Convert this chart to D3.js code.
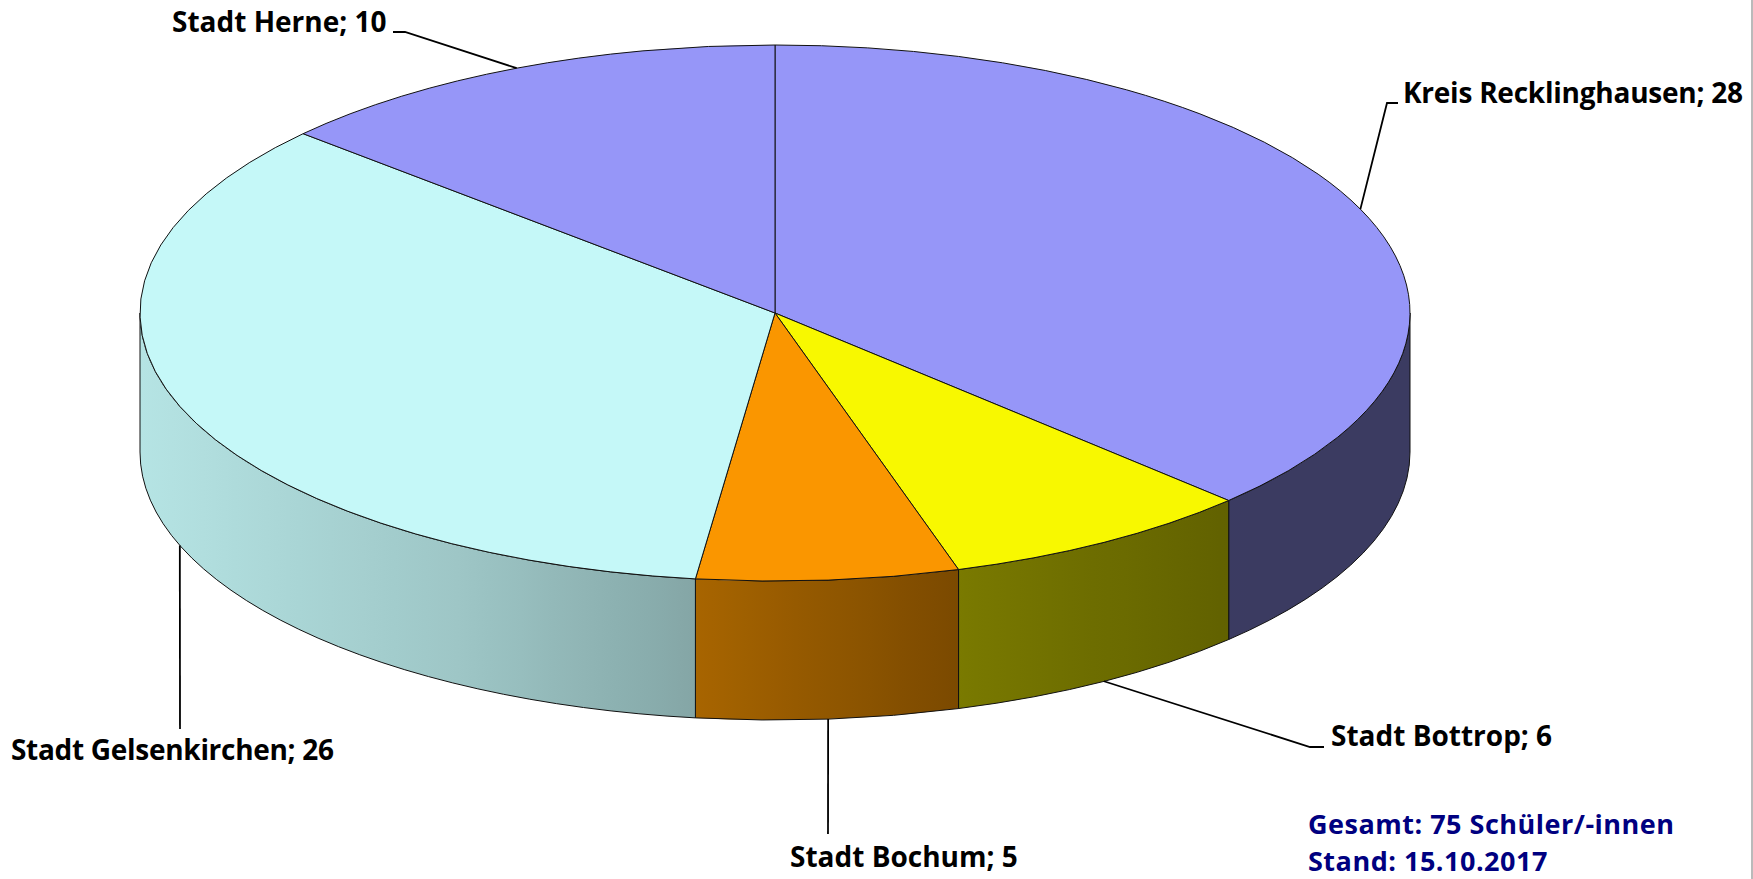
<!DOCTYPE html>
<html>
<head>
<meta charset="utf-8">
<script src="https://cdn.jsdelivr.net/npm/d3@7"></script>
<style>
  html, body { margin: 0; padding: 0; background: #fff; overflow: hidden; }
  text { font-family: "Open Sans", "Noto Sans", sans-serif; font-weight: 700; }
</style>
</head>
<body>
<div id="chart"></div>
<script>
// the data
var regions = ["Kreis Recklinghausen", "Stadt Bottrop", "Stadt Bochum", "Stadt Gelsenkirchen", "Stadt Herne"];
var pupils = [28, 6, 5, 26, 10];
var sliceColors = ["#9696f8", "#f8f800", "#fa9600", "#c5f8f8", "#9696f8"];
var footerLines = ["Gesamt: 75 Schüler/-innen", "Stand: 15.10.2017"];

var svgWidth = 1753, svgHeight = 879;
var centerX = 775, centerY = 313, radiusX = 635, radiusY = 268, depth = 139;

var svg = d3.select("#chart").append("svg")
  .attr("width", svgWidth)
  .attr("height", svgHeight)
  .style("display", "block");

var defs = svg.append("defs");

// flatten the round pie into the tilted disc
var toX = d3.scaleLinear().domain([-1, 1]).range([centerX - radiusX, centerX + radiusX]);
var toY = d3.scaleLinear().domain([-1, 1]).range([centerY - radiusY, centerY + radiusY]);
function rimX(angle) { return toX(Math.sin(angle)); }
function rimY(angle) { return toY(-Math.cos(angle)); }

var slices = d3.pie().sort(null).value(function(d) { return d; })(pupils);

// the wall gets darker from left to right
var shade = d3.scaleLinear()
  .domain([-1, -0.5, -0.126, 0.29, 0.72, 1])
  .range([0.92, 0.8, 0.67, 0.49, 0.39, 0.39]);

// only the front half of the disc has a visible wall
function wallPath(d) {
  var a0 = Math.max(d.startAngle, Math.PI / 2);
  var a1 = Math.min(d.endAngle, Math.PI * 1.5);
  if (a0 >= a1) return null;
  var x0 = rimX(a0), y0 = rimY(a0), x1 = rimX(a1), y1 = rimY(a1);
  return "M" + x0 + "," + y0
    + "A" + radiusX + "," + radiusY + " 0 0 1 " + x1 + "," + y1
    + "L" + x1 + "," + (y1 + depth)
    + "A" + radiusX + "," + radiusY + " 0 0 0 " + x0 + "," + (y0 + depth)
    + "Z";
}

slices.forEach(function(d, i) {
  var base = d3.rgb(sliceColors[i]);
  var grad = defs.append("linearGradient")
    .attr("id", "wall" + i)
    .attr("gradientUnits", "userSpaceOnUse")
    .attr("x1", toX(-1)).attr("x2", toX(1)).attr("y1", 0).attr("y2", 0);
  d3.range(0, 41).forEach(function(k) {
    var t = -1 + k / 20;
    var f = shade(t);
    grad.append("stop")
      .attr("offset", (k * 2.5) + "%")
      .attr("stop-color", d3.rgb(base.r * f, base.g * f, base.b * f).formatHex());
  });
});

var walls = svg.append("g");
walls.selectAll("path")
  .data(slices)
  .enter()
  .append("path")
  .attr("d", wallPath)
  .attr("fill", function(d, i) { return "url(#wall" + i + ")"; })
  .attr("stroke", "#111")
  .attr("stroke-width", 1);

// top of the disc
var arc = d3.arc().innerRadius(0).outerRadius(radiusX);
svg.append("g")
  .attr("transform", "translate(" + centerX + "," + centerY + ") scale(1," + (radiusY / radiusX) + ")")
  .selectAll("path")
  .data(slices)
  .enter()
  .append("path")
  .attr("d", arc)
  .attr("fill", function(d, i) { return sliceColors[i]; })
  .attr("stroke", "#111")
  .attr("stroke-width", 1)
  .attr("vector-effect", "non-scaling-stroke");

// leader lines start in the middle of each slice's outer edge
var labelSpots = [
  { x: 1403, y: 103, width: 340, elbow: [1387, 103], end: [1398, 103], onWall: false },
  { x: 1331, y: 746, elbow: [1310, 747], end: [1324, 747], onWall: true },
  { x: 790, y: 867, elbow: null, end: [828, 834], onWall: true },
  { x: 11, y: 760, width: 323, elbow: null, end: [180, 729], onWall: true },
  { x: 172, y: 32, elbow: [405, 32], end: [393, 32], onWall: false }
];

slices.forEach(function(d, i) {
  var mid = (d.startAngle + d.endAngle) / 2;
  var spot = labelSpots[i];
  var pts = [[rimX(mid), rimY(mid) + (spot.onWall ? depth : 0)]];
  if (spot.elbow) pts.push(spot.elbow);
  pts.push(spot.end);
  svg.append("path")
    .attr("d", d3.line()(pts))
    .attr("fill", "none")
    .attr("stroke", "#000")
    .attr("stroke-width", 1.8);

  var label = svg.append("text")
    .attr("x", spot.x)
    .attr("y", spot.y)
    .style("font-size", "28px")
    .style("fill", "#000")
    .text(regions[i] + "; " + d.value);
  // the two long labels run a little tight in the original
  if (spot.width) label.attr("textLength", spot.width);
});

svg.selectAll("text.footer")
  .data(footerLines)
  .enter()
  .append("text")
  .attr("class", "footer")
  .attr("x", 1308)
  .attr("y", function(d, i) { return 834 + i * 37; })
  .style("font-size", "27px")
  .style("letter-spacing", "0.5px")
  .style("fill", "#000080")
  .text(function(d) { return d; });

// thin grey frame line on the right edge
svg.append("line")
  .attr("x1", 1752).attr("x2", 1752)
  .attr("y1", 0).attr("y2", svgHeight)
  .attr("stroke", "#8c8c8c")
  .attr("stroke-width", 1.2);
</script>
</body>
</html>
